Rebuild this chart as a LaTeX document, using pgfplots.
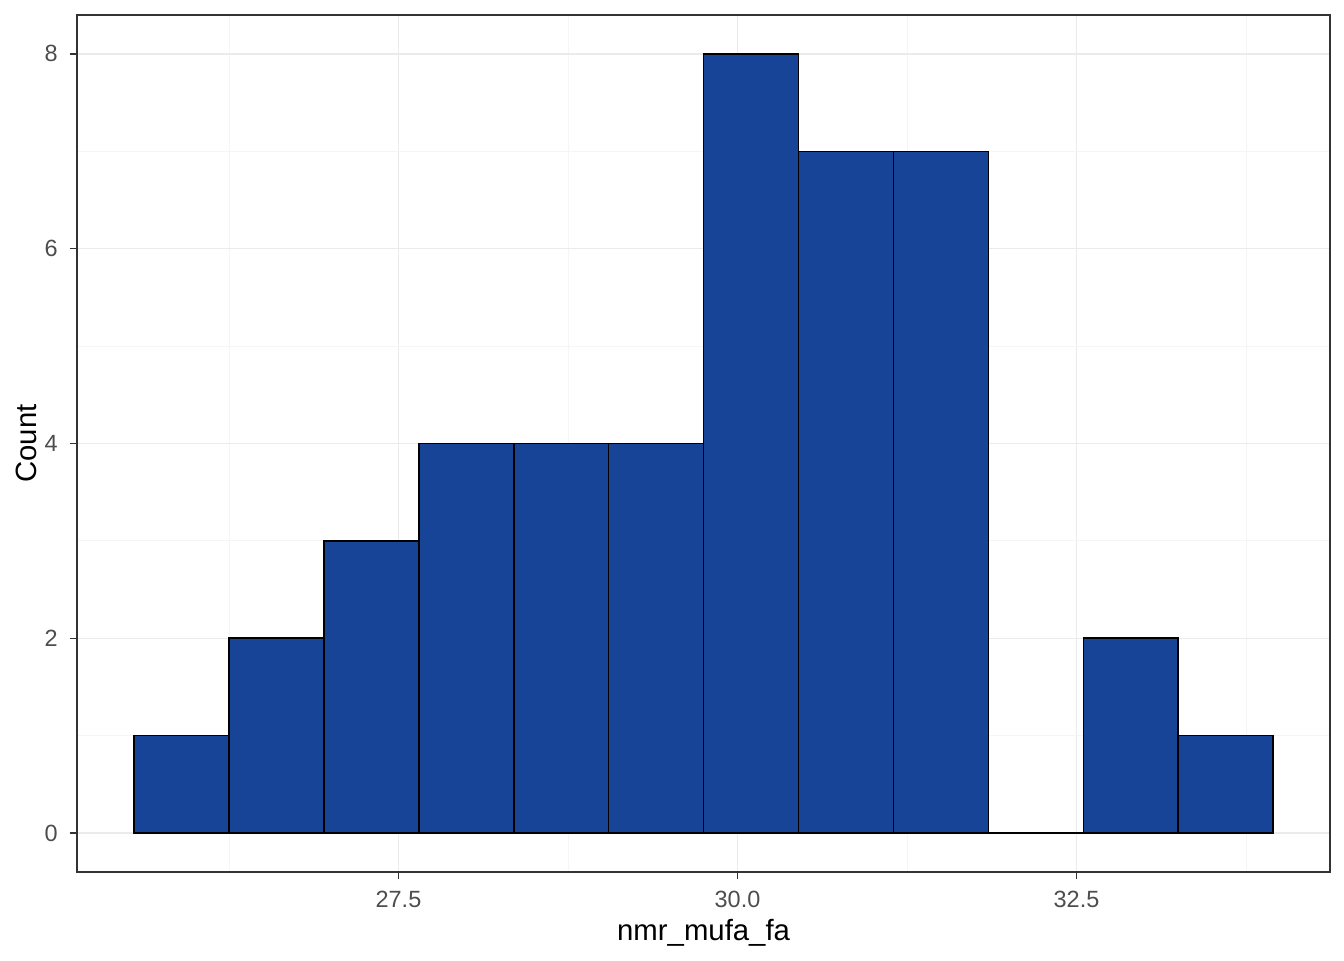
\documentclass[border=0pt]{standalone}
\usepackage{pgfplots}
\pgfplotsset{compat=1.18}
\usepackage{fontspec}
\setmainfont{Liberation Sans}
\definecolor{barfill}{RGB}{24,68,152}
\definecolor{grey20}{RGB}{51,51,51}
\definecolor{grey30}{RGB}{77,77,77}
\definecolor{grey92}{RGB}{235,235,235}
\definecolor{gridminor}{RGB}{245,245,245}
\begin{document}
\begin{tikzpicture}
\useasboundingbox (0,0) rectangle (504pt,360pt);
\begin{axis}[
  at={(28.9pt,33pt)}, anchor=south west,
  scale only axis, width=469.9pt, height=321.4pt,
  xmin=25.13, xmax=34.37, ymin=-0.4, ymax=8.4,
  xtick={27.5,30,32.5}, xticklabels={27.5,30.0,32.5},
  minor xtick={26.25,28.75,31.25,33.75},
  ytick={0,2,4,6,8}, minor ytick={1,3,5,7},
  grid=both,
  major grid style={grey92, line width=0.55pt},
  minor grid style={gridminor, line width=0.28pt},
  axis line style={grey20, line width=0.55pt},
  tick align=outside, tick pos=left,
  major tick length=2.75pt, minor tick length=0pt,
  major tick style={grey20, line width=0.55pt},
  tick label style={font=\fontsize{8.8}{10}\selectfont, text=grey30},
  /pgf/number format/assume math mode=true,
  xticklabel style={yshift=-1pt},
  yticklabel style={xshift=-1pt},
  xlabel={nmr\_mufa\_fa}, ylabel={Count},
  label style={font=\fontsize{11}{13}\selectfont},
  xlabel style={yshift=2.5pt},
  ylabel style={yshift=-4pt},
]
\addplot[ybar interval, fill=barfill, draw=black, line width=0.6pt] coordinates {
(25.55,1) (26.25,2) (26.95,3) (27.65,4) (28.35,4) (29.05,4) (29.75,8)
(30.45,7) (31.15,7) (31.85,0) (32.55,2) (33.25,1) (33.95,1)
};
\end{axis}
\end{tikzpicture}
\end{document}
